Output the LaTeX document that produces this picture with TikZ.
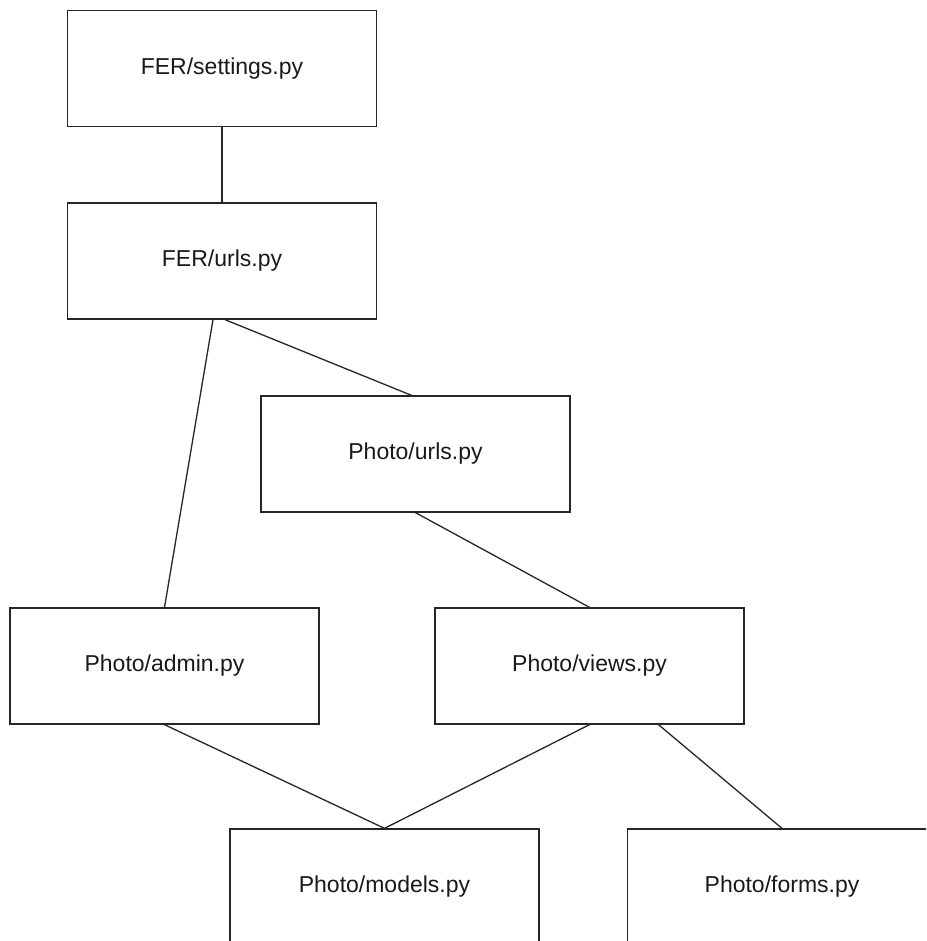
\documentclass[tikz,border=0pt]{standalone}
\usepackage{fontspec}
\setmainfont{Liberation Sans}
\usetikzlibrary{calc}
\tikzset{
  filebox/.style={draw=black!85, line width=1.3pt, rectangle, minimum width=309pt, minimum height=116pt, inner sep=0pt, font=\fontsize{23}{28}\selectfont, text=black!90},
  link/.style={draw=black!85, line width=1.3pt}
}
\begin{document}
\begin{tikzpicture}[x=1pt, y=-1pt]
\clip (0,0) rectangle (926,941);
\fill[white] (0,0) rectangle (926,941);
\node[filebox] (settings) at (222,68.5) {FER/settings.py};
\node[filebox] (ferurls) at (222,261) {FER/urls.py};
\node[filebox] (purls) at (415.5,454) {Photo/urls.py};
\node[filebox] (admin) at (164.5,666) {Photo/admin.py};
\node[filebox] (views) at (589.5,666) {Photo/views.py};
\node[filebox] (models) at (384.5,887) {Photo/models.py};
\node[filebox] (forms) at (782,887) {Photo/forms.py};
\draw[link] (settings.south) -- (ferurls.north);
\draw[link] ($(ferurls.south)+(-9,0)$) -- (admin.north);
\draw[link] ($(ferurls.south)+(3,0)$) -- ($(purls.north)+(-4,0)$);
\draw[link] (purls.south) -- (views.north);
\draw[link] (admin.south) -- (models.north);
\draw[link] (views.south) -- (models.north);
\draw[link] ($(views.south)+(69,0)$) -- (forms.north);
\end{tikzpicture}
\end{document}
